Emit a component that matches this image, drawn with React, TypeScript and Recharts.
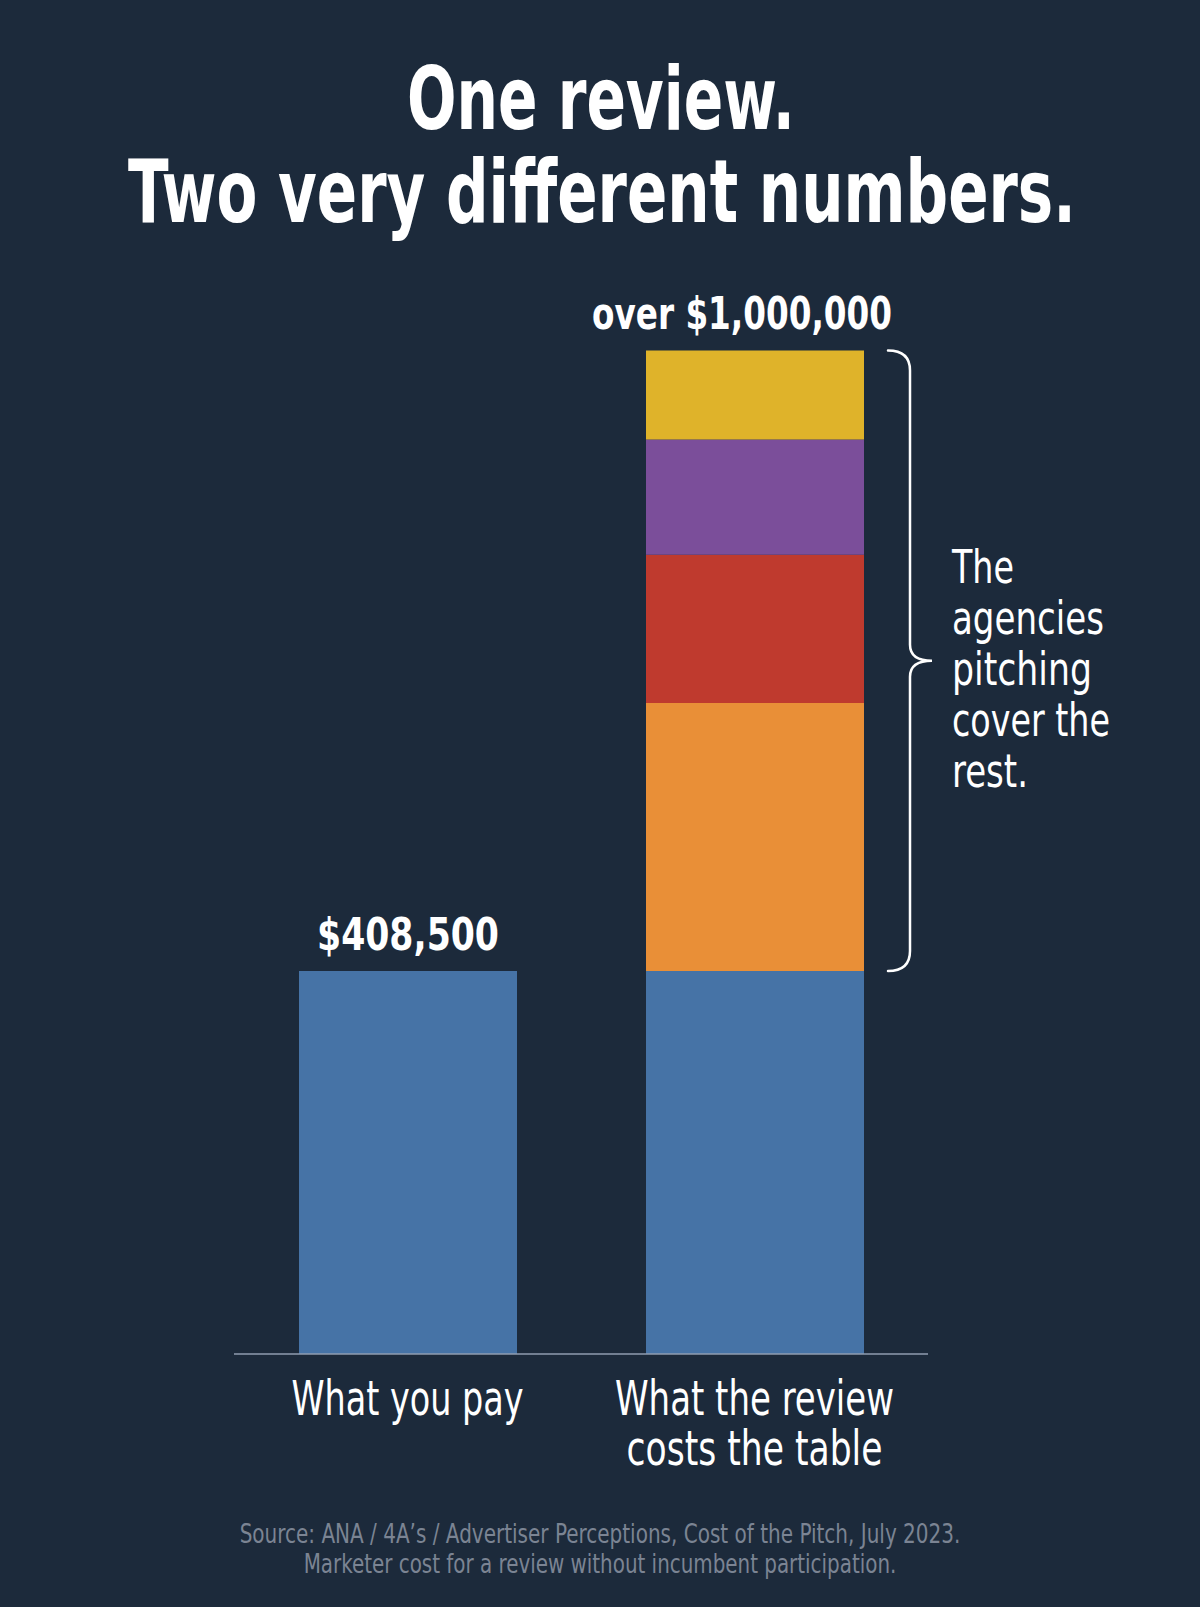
import React from 'react';
import { BarChart, Bar, XAxis, YAxis, LabelList, ReferenceArea } from 'recharts';

// Data
const categoryLines = [['What you pay'], ['What the review', 'costs the table']];
const categories = categoryLines.map((lines) => lines.join(' '));
const marketerCost = [408500, 408500];
const agencyCostA = [0, 286000]; // orange
const agencyCostB = [0, 158000]; // red
const agencyCostC = [0, 123000]; // purple
const agencyCostD = [0, 95000]; // yellow
const baseLabels = ['$408,500', ''];
const totalLabels = ['', 'over $1,000,000'];

const titleLines = ['One review.', 'Two very different numbers.'];
const noteLines = ['The', 'agencies', 'pitching', 'cover the', 'rest.'];
const sourceLines = [
  'Source: ANA / 4A’s / Advertiser Perceptions, Cost of the Pitch, July 2023.',
  'Marketer cost for a review without incumbent participation.',
];

const data = categories.map((category, i) => ({
  category,
  marketer: marketerCost[i],
  agencyA: agencyCostA[i],
  agencyB: agencyCostB[i],
  agencyC: agencyCostC[i],
  agencyD: agencyCostD[i],
  baseLabel: baseLabels[i],
  totalLabel: totalLabels[i],
}));

const pitchTotal =
  marketerCost[1] + agencyCostA[1] + agencyCostB[1] + agencyCostC[1] + agencyCostD[1];

// Styles
const BG = '#1c2a3b';
const COLORS = {
  marketer: '#4673a6',
  agencyA: '#e98f37',
  agencyB: '#bf3a2e',
  agencyC: '#7b4e9a',
  agencyD: '#dfb32a',
};
const FONT = '"Liberation Sans Narrow", "DejaVu Sans Condensed", "Roboto Condensed", Roboto, sans-serif';

// widths of each text in the reference, so the condensed look holds
const textWidths: Record<string, number> = {
  'One review.': 388,
  'Two very different numbers.': 948,
  '$408,500': 182,
  'over $1,000,000': 300,
  'What you pay': 232,
  'What the review': 279,
  'costs the table': 256,
  The: 62,
  agencies: 152,
  pitching: 140,
  'cover the': 158,
  'rest.': 76,
  [sourceLines[0]]: 721,
  [sourceLines[1]]: 593,
};

let measureCtx: CanvasRenderingContext2D | null = null;
const measureText = (text: string, size: number, weight: number) => {
  if (!measureCtx) measureCtx = document.createElement('canvas').getContext('2d');
  if (!measureCtx) return 0;
  measureCtx.font = `${weight} ${size}px ${FONT}`;
  return measureCtx.measureText(text).width;
};

// squeeze horizontally with a transform so the box stays honest
const FitText = ({ x, y, text, size, weight = 400, fill = '#ffffff', anchor = 'middle' }: any) => {
  const natural = measureText(text, size, weight);
  const target = textWidths[text];
  const sx = natural > 0 && target ? target / natural : 1;
  return (
    <text
      transform={`translate(${x} ${y}) scale(${sx} 1)`}
      x={0}
      y={0}
      fontFamily={FONT}
      fontSize={size}
      fontWeight={weight}
      fill={fill}
      textAnchor={anchor}
    >
      {text}
    </text>
  );
};

const ValueLabel = (props: any) => {
  const { x, y, width, value } = props;
  if (!value) return null;
  const dx = String(value).startsWith('over') ? -13 : 0;
  return (
    <FitText x={Number(x) + Number(width) / 2 + dx} y={Number(y) - 21} text={value} size={44} weight={700} />
  );
};

const CategoryTick = (props: any) => {
  const { x, y, payload } = props;
  const idx = categories.indexOf(payload.value);
  const lines = categoryLines[idx] ?? [payload.value];
  return (
    <g>
      {lines.map((line, i) => (
        <FitText key={i} x={x} y={Number(y) + 53 + i * 50} text={line} size={48} />
      ))}
    </g>
  );
};

// brace + note to the right of the stacked bar, placed from the y scale via ReferenceArea
const BraceNote = (props: any) => {
  const { x, y, width, height } = props;
  const right = Number(x) + Number(width);
  const top = Number(y);
  const bottom = top + Number(height);
  const mid = (top + bottom) / 2;
  const lx = right - 18;
  const hook = right - 40;
  const tip = right + 4;
  const d = [
    `M ${hook} ${top}`,
    `Q ${lx} ${top} ${lx} ${top + 20}`,
    `L ${lx} ${mid - 16}`,
    `Q ${lx} ${mid} ${tip} ${mid}`,
    `Q ${lx} ${mid} ${lx} ${mid + 16}`,
    `L ${lx} ${bottom - 20}`,
    `Q ${lx} ${bottom} ${hook} ${bottom}`,
  ].join(' ');
  return (
    <g>
      <path d={d} fill="none" stroke="#ffffff" strokeWidth={2.5} strokeLinecap="round" />
      {noteLines.map((line, i) => (
        <FitText key={i} x={right + 24} y={mid - 78 + i * 51} text={line} size={46} anchor="start" />
      ))}
    </g>
  );
};

export default function App() {
  return (
    <div style={{ position: 'absolute', left: 0, top: 0, width: 1200, height: 1607, background: BG, overflow: 'hidden' }}>
      <BarChart
        width={1200}
        height={1607}
        data={data}
        margin={{ top: 229, right: 272, bottom: 123, left: 234 }}
      >
        <XAxis
          dataKey="category"
          height={130}
          interval={0}
          tickLine={false}
          axisLine={{ stroke: '#8f9db0', strokeWidth: 1.5 }}
          tick={<CategoryTick />}
        />
        <YAxis hide domain={[0, 1200000]} />
        <ReferenceArea y1={marketerCost[1]} y2={pitchTotal} fill="none" stroke="none" shape={<BraceNote />} />
        <Bar dataKey="marketer" stackId="a" fill={COLORS.marketer} barSize={218} isAnimationActive={false}>
          <LabelList dataKey="baseLabel" content={<ValueLabel />} />
        </Bar>
        <Bar dataKey="agencyA" stackId="a" fill={COLORS.agencyA} barSize={218} isAnimationActive={false} />
        <Bar dataKey="agencyB" stackId="a" fill={COLORS.agencyB} barSize={218} isAnimationActive={false} />
        <Bar dataKey="agencyC" stackId="a" fill={COLORS.agencyC} barSize={218} isAnimationActive={false} />
        <Bar dataKey="agencyD" stackId="a" fill={COLORS.agencyD} barSize={218} isAnimationActive={false}>
          <LabelList dataKey="totalLabel" content={<ValueLabel />} />
        </Bar>
      </BarChart>

      {/* title and source */}
      <svg
        width={1200}
        height={1607}
        style={{ position: 'absolute', left: 0, top: 0, pointerEvents: 'none' }}
      >
        <FitText x={601} y={129} text={titleLines[0]} size={88} weight={700} />
        <FitText x={602} y={222} text={titleLines[1]} size={88} weight={700} />
        <FitText x={600} y={1543} text={sourceLines[0]} size={26} fill="#7b8493" />
        <FitText x={600} y={1573} text={sourceLines[1]} size={26} fill="#7b8493" />
      </svg>
    </div>
  );
}
